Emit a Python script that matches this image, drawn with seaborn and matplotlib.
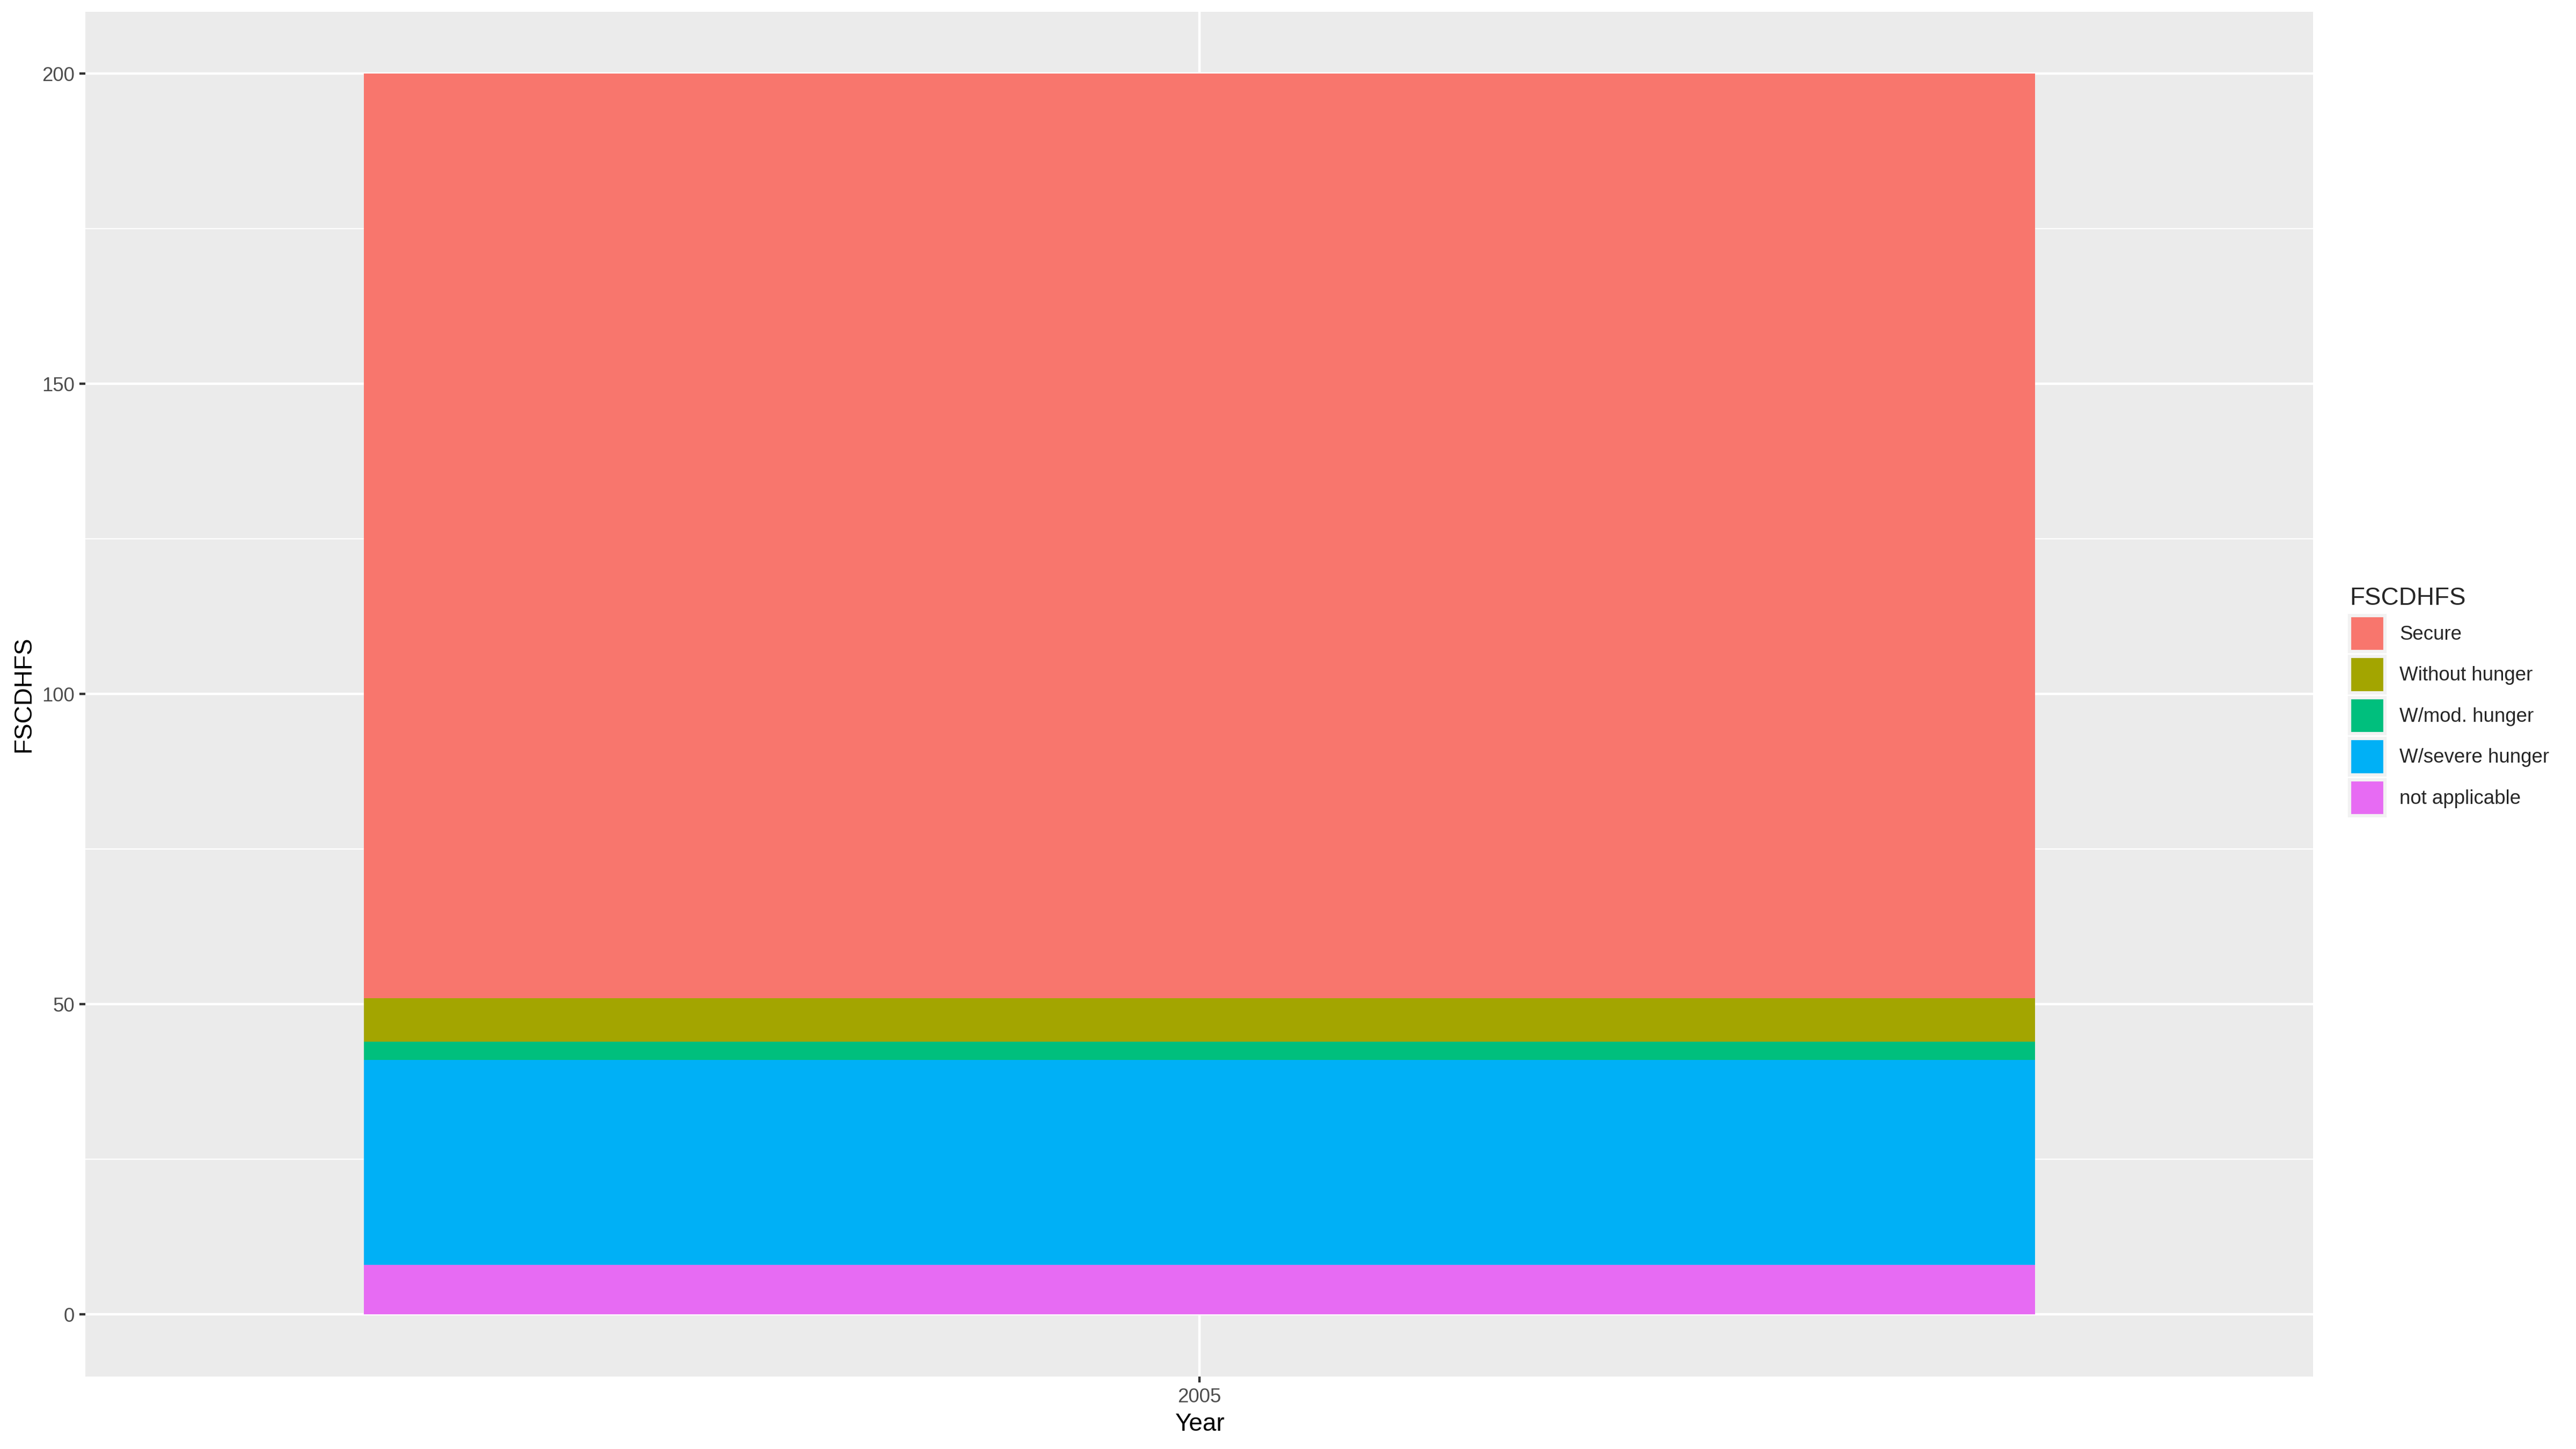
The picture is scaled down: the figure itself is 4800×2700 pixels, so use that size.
import numpy as np
import pandas as pd
import matplotlib
matplotlib.use('Agg')
import matplotlib.pyplot as plt
import seaborn as sns
from matplotlib.patches import Patch

# data
year = ['2005']
categories = ['Secure', 'Without hunger', 'W/mod. hunger', 'W/severe hunger', 'not applicable']
counts = [149, 7, 3, 33, 8]
palette = ['#F8766D', '#A3A500', '#00BF7D', '#00B0F6', '#E76BF3']

sns.set_theme(style='darkgrid')
plt.rcParams['font.family'] = ['Liberation Sans', 'DejaVu Sans']

df = pd.DataFrame({'Year': year * len(categories), 'FSCDHFS': categories, 'n': counts})
# stack order: last category sits at the bottom
df['top'] = df['n'][::-1].cumsum()[::-1]

fig = plt.figure(figsize=(16, 9), dpi=300)
ax = fig.add_axes([0.0332, 0.050, 0.898 - 0.0332, 0.992 - 0.050])

# overlay cumulative bars, tallest first
for _, row in df.iterrows():
    sns.barplot(x=[row['Year']], y=[row['top']], color=palette[categories.index(row['FSCDHFS'])],
                saturation=1, width=0.9, ax=ax, linewidth=0, edgecolor='none')

ax.set_facecolor('#EBEBEB')
ax.set_xlim(-0.6, 0.6)
ax.set_ylim(-10, 210)
ax.set_yticks([0, 50, 100, 150, 200])
ax.set_yticks([25, 75, 125, 175], minor=True)
ax.grid(which='major', color='white', linewidth=1.07)
ax.grid(which='minor', axis='y', color='white', linewidth=0.53)
ax.set_axisbelow(True)
for s in ax.spines.values():
    s.set_visible(False)
ax.tick_params(axis='both', which='major', length=2.75, width=1.07, color='#333333',
               labelsize=8.8, labelcolor='#4D4D4D', pad=2.2, left=True, bottom=True)
ax.tick_params(axis='y', which='minor', length=0)
ax.set_xlabel('Year', fontsize=11, color='black', labelpad=2.75)
ax.set_ylabel('FSCDHFS', fontsize=11, color='black', labelpad=2.75)

handles = [Patch(facecolor=c, edgecolor='#F2F2F2', linewidth=1.5) for c in palette]
leg = fig.legend(handles, categories, title='FSCDHFS', loc='center left',
                 bbox_to_anchor=(0.909, 0.516), frameon=False, fontsize=8.8,
                 title_fontsize=11, handlelength=1.8, handleheight=2.45,
                 labelspacing=0.25, handletextpad=0.75, borderaxespad=0)
leg._legend_box.align = 'left'

fig.savefig('out.png', dpi=300, facecolor='white')
